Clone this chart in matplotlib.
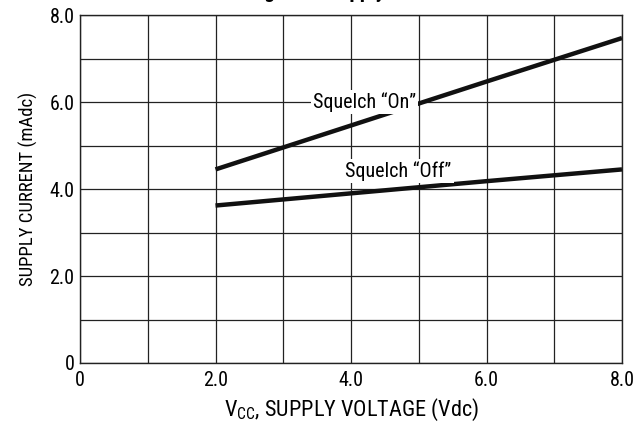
import matplotlib
matplotlib.use("Agg")
import matplotlib.pyplot as plt
from matplotlib import font_manager

# narrow font like the datasheet, take first one installed
names = {f.name for f in font_manager.fontManager.ttflist}
fam = 'DejaVu Sans'
for cand in ['Liberation Sans Narrow', 'Roboto Condensed', 'DejaVu Sans Condensed',
             'Open Sans Condensed', 'Liberation Sans']:
    if cand in names:
        fam = cand
        break
plt.rcParams['font.family'] = [fam, 'DejaVu Sans']
plt.rcParams['mathtext.fontset'] = 'custom'
plt.rcParams['mathtext.rm'] = fam

vcc = [2.0, 4.0, 6.0, 8.0]
i_on = [4.45, 5.46, 6.47, 7.47]
i_off = [3.62, 3.90, 4.18, 4.45]
xticks = [0, 2, 4, 6, 8]
xtick_labels = ['0', '2.0', '4.0', '6.0', '8.0']
yticks = [0, 2, 4, 6, 8]
ytick_labels = ['0', '2.0', '4.0', '6.0', '8.0']

fig = plt.figure(figsize=(6.34, 4.28), dpi=100)
ax = fig.add_axes([80/634, 65/428, 542/634, 348/428])

ax.set_xlim(0, 8)
ax.set_ylim(0, 8)
ax.set_xticks(xticks)
ax.set_xticklabels(xtick_labels)
ax.set_yticks(yticks)
ax.set_yticklabels(ytick_labels)
ax.set_xticks(range(1, 9, 2), minor=True)
ax.set_yticks(range(1, 9, 2), minor=True)
ax.grid(True, which='both', color='#222222', lw=0.9)
ax.tick_params(which='both', length=0, labelsize=14.5)
ax.tick_params(axis='x', pad=6)
ax.tick_params(axis='y', pad=4)
for s in ax.spines.values():
    s.set_color('#222222')
    s.set_linewidth(1.0)

ax.plot(vcc, i_on, color='#111111', lw=3.2, solid_capstyle='butt')
ax.plot(vcc, i_off, color='#111111', lw=3.2, solid_capstyle='butt')

ax.text(4.2, 6.0, 'Squelch \u201cOn\u201d', fontsize=14.5, ha='center', va='center',
        bbox=dict(facecolor='white', edgecolor='none', pad=1.5))
ax.text(4.7, 4.41, 'Squelch \u201cOff\u201d', fontsize=14.5, ha='center', va='center',
        bbox=dict(facecolor='white', edgecolor='none', pad=1.5))

ax.set_xlabel(r'V$_{\mathregular{CC}}$, SUPPLY VOLTAGE (Vdc)', fontsize=16, labelpad=5)
ax.set_ylabel('SUPPLY CURRENT (mAdc)', fontsize=13.5, labelpad=8)

# title sits above the page, only the descenders show
fig.text(351/634, 1 + 1.5/428, 'Figure 3. Supply Current', fontsize=15, fontweight='bold',
         ha='center', va='baseline')

fig.savefig('out.png', dpi=100)
